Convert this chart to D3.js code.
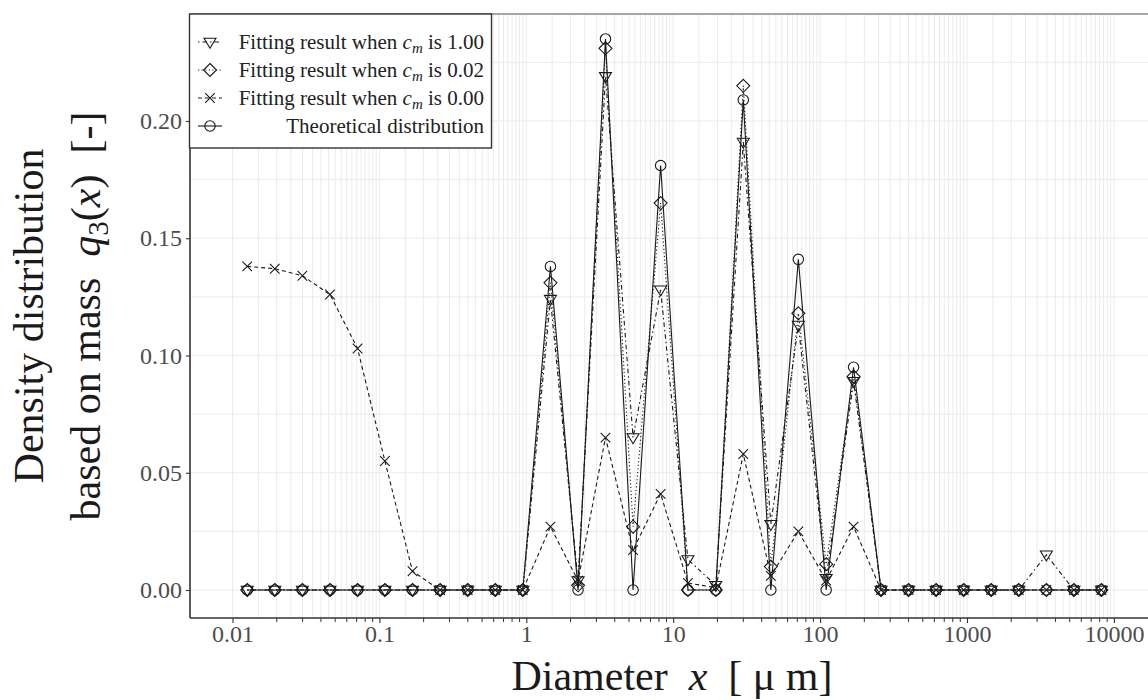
<!DOCTYPE html>
<html>
<head>
<meta charset="utf-8">
<script src="https://cdn.jsdelivr.net/npm/d3@7"></script>
<style>
  html, body { margin: 0; padding: 0; background: #fff; }
  svg { display: block; }
  text { font-family: "Liberation Serif", "Times New Roman", serif; }
</style>
</head>
<body>
<svg id="chart" width="1148" height="700"></svg>
<script>
// ---------------- data ----------------
const diameters = [0.0126, 0.0194, 0.0299, 0.0461, 0.0710, 0.109, 0.168, 0.259, 0.399, 0.615,
  0.947, 1.46, 2.25, 3.46, 5.33, 8.21, 12.6, 19.5, 30.0, 46.2,
  71.1, 110, 169, 260, 400, 616, 949, 1460, 2250, 3470, 5340, 8220];

const theoretical = [0, 0, 0, 0, 0, 0, 0, 0, 0, 0,
  0, 0.138, 0, 0.235, 0, 0.181, 0, 0, 0.209, 0,
  0.141, 0, 0.095, 0, 0, 0, 0, 0, 0, 0, 0, 0];

const cm100 = [0, 0, 0, 0, 0, 0, 0, 0, 0, 0,
  0, 0.124, 0.004, 0.219, 0.065, 0.128, 0.013, 0.002, 0.191, 0.028,
  0.113, 0.005, 0.089, 0, 0, 0, 0, 0, 0, 0.015, 0, 0];

const cm002 = [0, 0, 0, 0, 0, 0, 0, 0, 0, 0,
  0, 0.131, 0.002, 0.231, 0.027, 0.165, 0, 0, 0.215, 0.010,
  0.118, 0.011, 0.091, 0, 0, 0, 0, 0, 0, 0, 0, 0];

const cm000 = [0.138, 0.137, 0.134, 0.126, 0.103, 0.055, 0.008, 0, 0, 0,
  0, 0.027, 0.004, 0.065, 0.017, 0.041, 0.003, 0.001, 0.058, 0.006,
  0.025, 0.004, 0.027, 0, 0, 0, 0, 0, 0, 0, 0, 0];

const xTickValues = [0.01, 0.1, 1, 10, 100, 1000, 10000];
const xTickLabels = ["0.01", "0.1", "1", "10", "100", "1000", "10000"];
const yTickValues = [0, 0.05, 0.10, 0.15, 0.20];
const yTickLabels = ["0.00", "0.05", "0.10", "0.15", "0.20"];

const legendLabels = ["1.00", "0.02", "0.00"];

// ---------------- layout ----------------
const svg = d3.select("#chart");
const panel = { left: 190, top: 14, right: 1160, bottom: 618 };

const x = d3.scaleLog().domain([0.01, 10000]).range([232.5, 1113.9]);
const y = d3.scaleLinear().domain([0, 0.2]).range([590, 121]);

svg.append("rect").attr("width", 1148).attr("height", 700).attr("fill", "#fff");

svg.append("defs").append("clipPath").attr("id", "clip")
  .append("rect").attr("x", panel.left).attr("y", panel.top)
  .attr("width", panel.right - panel.left).attr("height", panel.bottom - panel.top);

const grid = svg.append("g");
// vertical gridlines at 1, 1.5, 2, ..., 9.5 x 10^k
const vGrid = [];
for (let k = -2; k <= 3; k++) {
  for (let m = 1; m < 10; m += 0.5) vGrid.push(m * Math.pow(10, k));
}
vGrid.push(10000);
grid.selectAll("line.vg").data(vGrid).enter().append("line")
  .attr("x1", d => x(d)).attr("x2", d => x(d))
  .attr("y1", panel.top).attr("y2", panel.bottom)
  .attr("stroke", "#ebebeb").attr("stroke-width", 1);
// horizontal gridlines every 0.025
const hGrid = d3.range(0, 0.2451, 0.025);
grid.selectAll("line.hg").data(hGrid).enter().append("line")
  .attr("x1", panel.left).attr("x2", panel.right)
  .attr("y1", d => y(d)).attr("y2", d => y(d))
  .attr("stroke", "#ebebeb").attr("stroke-width", 1);

// ---------------- series ----------------
const series = [
  { name: "cm100", values: cm100, dash: "1.5,3,4.5,3", shape: "tri" },
  { name: "cm002", values: cm002, dash: "1.2,2.4", shape: "diamond" },
  { name: "cm000", values: cm000, dash: "4,3", shape: "cross" },
  { name: "theo", values: theoretical, dash: null, shape: "circle" }
];

function shapePath(shape) {
  switch (shape) {
    case "tri": return "M-6,-3.8L6,-3.8L0,6.2Z";
    case "diamond": return "M0,-6.5L6.5,0L0,6.5L-6.5,0Z";
    case "cross": return "M-4.8,-4.8L4.8,4.8M-4.8,4.8L4.8,-4.8";
    case "circle": return "M5.2,0A5.2,5.2 0 1,1 -5.2,0A5.2,5.2 0 1,1 5.2,0Z";
  }
}

const plot = svg.append("g").attr("clip-path", "url(#clip)");
const line = d3.line().x(d => x(d[0])).y(d => y(d[1]));

series.forEach(s => {
  const pts = diameters.map((d, i) => [d, s.values[i]]);
  plot.append("path").datum(pts)
    .attr("d", line)
    .attr("fill", "none")
    .attr("stroke", "#1a1a1a")
    .attr("stroke-width", 1.1)
    .attr("stroke-dasharray", s.dash);
});
series.forEach(s => {
  const pts = diameters.map((d, i) => [d, s.values[i]]);
  plot.selectAll(null).data(pts).enter().append("path")
    .attr("transform", d => `translate(${x(d[0])},${y(d[1])})`)
    .attr("d", shapePath(s.shape))
    .attr("fill", "none")
    .attr("stroke", "#1a1a1a")
    .attr("stroke-width", 1.1);
});

// ---------------- axes ----------------
// panel top border
svg.append("line").attr("x1", panel.left).attr("x2", 1148)
  .attr("y1", panel.top).attr("y2", panel.top)
  .attr("stroke", "#8a8a8a").attr("stroke-width", 1.6);

const xAxis = d3.axisBottom(x).tickValues(xTickValues)
  .tickFormat((d, i) => xTickLabels[i]).tickSize(5).tickSizeOuter(0).tickPadding(2);
const gx = svg.append("g").attr("transform", `translate(0,${panel.bottom})`).call(xAxis);
gx.select(".domain").remove();
gx.selectAll(".tick line").attr("stroke", "#333").attr("stroke-width", 1.1);
gx.selectAll(".tick text").attr("font-size", 24).attr("fill", "#4d4d4d")
  .attr("font-family", "Liberation Serif, serif");

// minor log ticks 2..9
const minor = [];
for (let k = -2; k <= 3; k++) for (let m = 2; m <= 9; m++) minor.push(m * Math.pow(10, k));
svg.append("g").selectAll("line").data(minor).enter().append("line")
  .attr("x1", d => x(d)).attr("x2", d => x(d))
  .attr("y1", panel.bottom).attr("y2", panel.bottom + 4)
  .attr("stroke", "#333").attr("stroke-width", 1);

svg.append("line").attr("x1", panel.left).attr("x2", 1148)
  .attr("y1", panel.bottom).attr("y2", panel.bottom)
  .attr("stroke", "#333").attr("stroke-width", 1.6);

const yAxis = d3.axisLeft(y).tickValues(yTickValues)
  .tickFormat((d, i) => yTickLabels[i]).tickSize(4).tickSizeOuter(0).tickPadding(4);
const gy = svg.append("g").attr("transform", `translate(${panel.left},0)`).call(yAxis);
gy.select(".domain").remove();
gy.selectAll(".tick line").attr("stroke", "#333").attr("stroke-width", 1.1);
gy.selectAll(".tick text").attr("font-size", 24).attr("fill", "#4d4d4d")
  .attr("font-family", "Liberation Serif, serif");
svg.append("line").attr("x1", panel.left).attr("x2", panel.left)
  .attr("y1", panel.top).attr("y2", panel.bottom)
  .attr("stroke", "#333").attr("stroke-width", 1.6);

// ---------------- axis titles ----------------
const xt = svg.append("text").attr("x", 672).attr("y", 690)
  .attr("text-anchor", "middle").attr("font-size", 42).attr("fill", "#1a1a1a");
xt.append("tspan").text("Diameter\u00A0\u00A0");
xt.append("tspan").attr("font-style", "italic").text("x");
xt.append("tspan").text("\u00A0\u00A0[\u00A0\u03BC\u00A0m]");

const yt1 = svg.append("text")
  .attr("transform", "translate(43,316) rotate(-90)")
  .attr("text-anchor", "middle").attr("font-size", 42).attr("fill", "#1a1a1a")
  .text("Density distribution");
const yt2 = svg.append("text")
  .attr("transform", "translate(100,316) rotate(-90)")
  .attr("text-anchor", "middle").attr("font-size", 42).attr("fill", "#1a1a1a");
yt2.append("tspan").text("based on mass\u00A0\u00A0");
yt2.append("tspan").attr("font-style", "italic").text("q");
yt2.append("tspan").attr("font-size", 29).attr("dy", 8).text("3");
yt2.append("tspan").attr("dy", -8).text("(");
yt2.append("tspan").attr("font-style", "italic").text("x");
yt2.append("tspan").text(")\u00A0\u00A0[-]");

// ---------------- legend ----------------
const lg = svg.append("g");
lg.append("rect").attr("x", 189.5).attr("y", 14).attr("width", 302).attr("height", 134)
  .attr("fill", "#fff").attr("stroke", "#333").attr("stroke-width", 1.4);
const rowY = [42, 70, 98, 126];
series.forEach((s, i) => {
  const g = lg.append("g").attr("transform", `translate(0,${rowY[i]})`);
  g.append("line").attr("x1", 198).attr("x2", 222).attr("y1", 0).attr("y2", 0)
    .attr("stroke", "#1a1a1a").attr("stroke-width", 1.1).attr("stroke-dasharray", s.dash);
  g.append("path").attr("transform", "translate(210,0)").attr("d", shapePath(s.shape))
    .attr("fill", "none").attr("stroke", "#1a1a1a").attr("stroke-width", 1.1);
  const t = g.append("text").attr("x", 484).attr("y", 7).attr("text-anchor", "end")
    .attr("font-size", 21).attr("fill", "#222");
  if (i < 3) {
    t.append("tspan").text("Fitting result when ");
    t.append("tspan").attr("font-style", "italic").text("c");
    t.append("tspan").attr("font-style", "italic").attr("font-size", 15).attr("dy", 4).text("m");
    t.append("tspan").attr("dy", -4).text(" is " + legendLabels[i]);
  } else {
    t.text("Theoretical distribution");
  }
});
</script>
</body>
</html>
